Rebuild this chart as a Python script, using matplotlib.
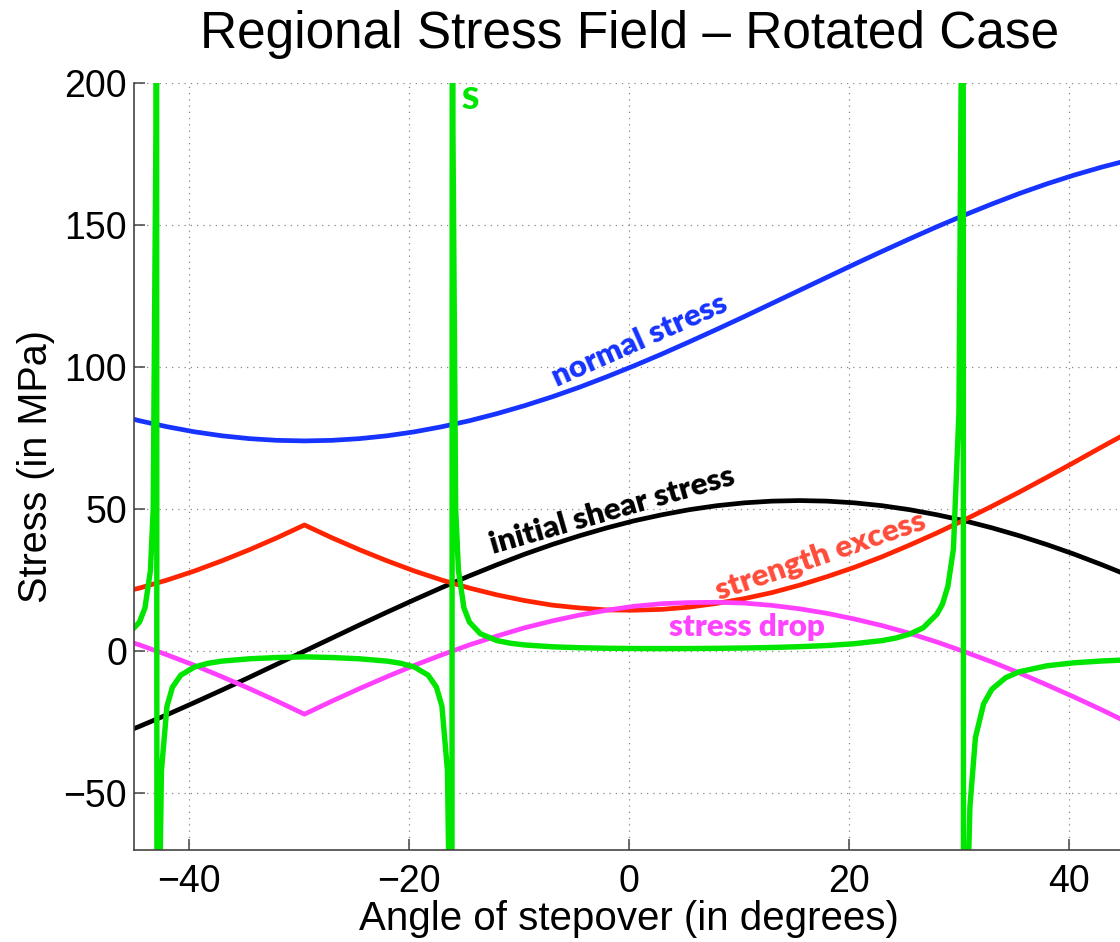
import matplotlib
matplotlib.use("Agg")
import matplotlib.pyplot as plt

# sample angles (degrees) for the smooth stress curves
angle = [-47, -44.5, -42, -39.5, -37, -34.5, -32, -29.5, -27, -24.5, -22, -19.5,
         -17, -14.5, -12, -9.5, -7, -4.5, -2, 0.5, 3, 5.5, 8, 10.5, 13, 15.5,
         18, 20.5, 23, 25.5, 28, 30.5, 33, 35.5, 38, 40.5, 43, 45.5]

normal_stress = [83.6, 81.1, 79.0, 77.2, 75.8, 74.8, 74.2, 74.0, 74.2, 74.8, 75.8, 77.2,
                 79.0, 81.1, 83.6, 86.4, 89.5, 92.9, 96.6, 100.5, 104.6, 108.9, 113.3, 117.8,
                 122.4, 127.0, 131.6, 136.2, 140.7, 145.1, 149.4, 153.5, 157.4, 161.1, 164.5,
                 167.6, 170.4, 172.9]

shear_stress = [-30.4, -26.5, -22.4, -18.1, -13.7, -9.2, -4.6, 0.0, 4.6, 9.2, 13.7, 18.1,
                22.4, 26.5, 30.4, 34.1, 37.5, 40.6, 43.4, 45.9, 48.0, 49.8, 51.2, 52.2,
                52.8, 53.0, 52.8, 52.2, 51.2, 49.8, 48.0, 45.9, 43.4, 40.6, 37.5, 34.1,
                30.4, 26.5]

strength_excess = [19.8, 22.2, 25.0, 28.2, 31.8, 35.7, 39.9, 44.4, 39.9, 35.7, 31.8, 28.2,
                   25.0, 22.2, 19.8, 17.8, 16.2, 15.2, 14.5, 14.4, 14.7, 15.5, 16.8, 18.5,
                   20.6, 23.2, 26.2, 29.5, 33.2, 37.3, 41.6, 46.2, 51.0, 56.0, 61.2, 66.5,
                   71.9, 77.2]

stress_drop = [5.3, 2.2, -1.3, -5.0, -9.0, -13.2, -17.6, -22.2, -17.6, -13.2, -9.0, -5.0,
               -1.3, 2.2, 5.3, 8.2, 10.6, 12.7, 14.4, 15.8, 16.7, 17.1, 17.2, 16.9,
               16.1, 14.9, 13.3, 11.3, 9.0, 6.3, 3.2, -0.2, -3.8, -7.7, -11.9, -16.2,
               -20.7, -25.4]

# S ratio, sampled more densely near the poles
s_angle = [-47, -45.5, -44.5, -44, -43.5, -43.25, -43, -42.95, -42.875, -42.75, -42.5,
           -42, -41.5, -40.75, -39.5, -38.25, -37, -34.5, -32, -29.5, -27, -24.5, -22,
           -20.75, -19.5, -18.25, -17.5, -17, -16.5, -16.25, -16.125, -16.05, -16,
           -15.75, -15.5, -15, -14.5, -13.5, -12, -10.75, -9.5, -7, -4.5, -2, 0.5, 3,
           5.5, 8, 10.5, 13, 15.5, 18, 20.5, 23, 24.25, 25.5, 26.75, 28, 28.5, 29, 29.5,
           30, 30.25, 30.35, 30.45, 30.75, 31, 31.5, 32.25, 33, 34.25, 35.5, 38, 40.5,
           43, 45.5]
s_ratio = [3.71, 6.1, 10.2, 15.2, 28.4, 50, 183, 400, -600, -110, -42,
           -19.4, -12.7, -8.48, -5.60, -4.28, -3.52, -2.70, -2.26, -2.00, -2.26, -2.70, -3.52,
           -4.28, -5.60, -8.48, -12.7, -19.4, -42, -110, -600, 400, 183,
           50, 28.4, 15.2, 10.2, 6.1, 3.71, 2.76, 2.18, 1.53, 1.19, 1.01, 0.91, 0.89,
           0.91, 0.98, 1.10, 1.28, 1.56, 1.97, 2.61, 3.71, 4.59, 5.96, 8.2, 13.0, 16.5, 22.9, 36.0,
           84, 229, 770, -577, -91.5, -54.8, -30.4, -18.5, -13.4, -9.34, -7.26, -5.16, -4.10,
           -3.47, -3.04]

x_ticks = [-40, -20, 0, 20, 40]
y_ticks = [-50, 0, 50, 100, 150, 200]

plt.rcParams['font.family'] = ['Liberation Sans', 'DejaVu Sans']

fig = plt.figure(figsize=(11.2, 9.42), dpi=100)
ax = fig.add_axes([0.1196, 0.0977, 0.8839, 0.8142])

lw = 3.4
ax.plot(angle, normal_stress, color='#1633ff', lw=lw)
ax.plot(angle, shear_stress, color='black', lw=lw)
ax.plot(angle, strength_excess, color='#ff2400', lw=lw)
ax.plot(angle, stress_drop, color='#ff40ff', lw=lw)
ax.plot(s_angle, s_ratio, color='#00e600', lw=3.9)

ax.set_xlim(-45, 45)
ax.set_ylim(-70, 200)
ax.set_xticks(x_ticks)
ax.set_yticks(y_ticks)
ax.grid(True, linestyle=(0, (1, 4)), color='#888888', lw=0.9)
ax.set_axisbelow(True)

for side in ['top', 'right']:
    ax.spines[side].set_visible(False)
for side in ['left', 'bottom']:
    ax.spines[side].set_color('#444444')
    ax.spines[side].set_linewidth(1.2)
ax.tick_params(direction='in', length=8, width=1.1, color='#444444', labelsize=27)
ax.tick_params(axis='x', pad=10)
ax.tick_params(axis='y', pad=5)

ax.set_xlabel('Angle of stepover (in degrees)', fontsize=29, labelpad=0)
ax.set_ylabel('Stress (in MPa)', fontsize=28.5, labelpad=6)
fig.text(0.5 * (187 + 1072) / 1120, 1 - 48 / 942, 'Regional Stress Field \u2013 Rotated Case',
         fontsize=37, ha='center', va='baseline')

lab = dict(family=['Lato', 'DejaVu Sans'], fontweight='heavy', fontsize=22.5,
           ha='center', va='center', rotation_mode='anchor')
ax.text(1.0, 109.5, 'normal stress', color='#1633ff', rotation=24, **lab)
ax.text(-1.5, 49.5, 'initial shear stress', color='black', rotation=16, **lab)
ax.text(17.4, 33.5, 'strength excess', color='#ff4b3a', rotation=19, **lab)
ax.text(10.7, 8.5, 'stress drop', color='#ff44ff', rotation=0, **lab)
ax.text(-14.45, 194, 'S', color='#00e600', rotation=0, **lab)

fig.savefig('out.png', dpi=100)
